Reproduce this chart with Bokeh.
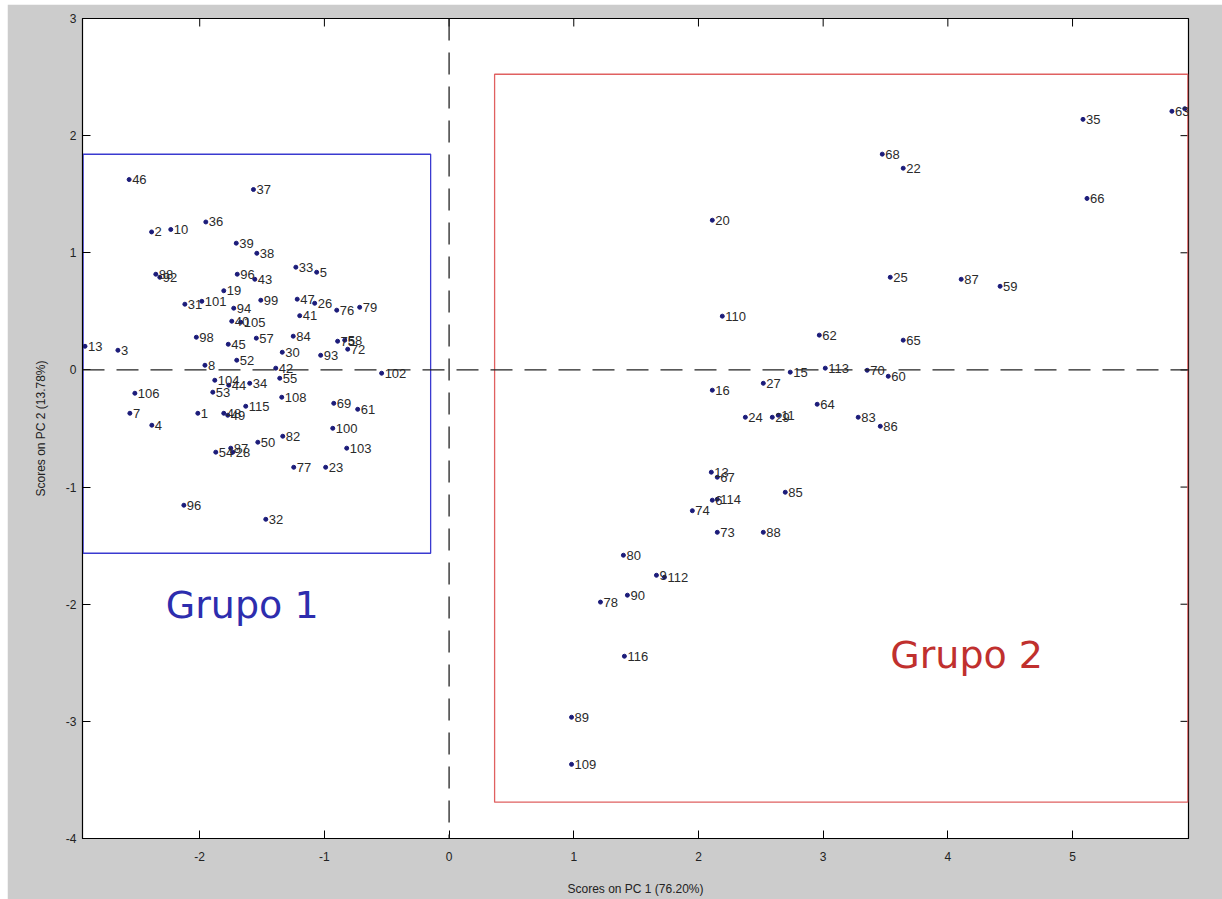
import math
from bokeh.plotting import figure
from bokeh.models import Range1d, Span, FixedTicker, ColumnDataSource
from bokeh.core.properties import value
from bokeh.embed import file_html
from bokeh.resources import INLINE

# ---- data (scores) ----
g1_labels = ["46", "37", "2", "10", "36", "39", "38", "88", "92", "96", "43", "33", "5",
             "31", "101", "19", "99", "47", "26", "76", "79", "41", "94", "40", "105",
             "84", "98", "45", "57", "30", "93", "75", "58", "72", "13", "3", "8", "52",
             "42", "102", "55", "34", "104", "44", "106", "53", "7", "4", "1", "48", "49",
             "115", "108", "69", "61", "100", "103", "82", "50", "87", "54", "28", "77",
             "23", "96", "32"]
g1_x = [-2.566, -1.569, -2.386, -2.232, -1.951, -1.707, -1.542, -2.352, -2.320, -1.699,
        -1.558, -1.229, -1.062, -2.119, -1.983, -1.807, -1.510, -1.218, -1.078, -0.901,
        -0.717, -1.198, -1.727, -1.743, -1.671, -1.250, -2.027, -1.771, -1.546, -1.338,
        -1.030, -0.894, -0.837, -0.813, -2.920, -2.656, -1.958, -1.703, -1.390, -0.541,
        -1.358, -1.599, -1.879, -1.767, -2.520, -1.895, -2.560, -2.384, -2.015, -1.807,
        -1.775, -1.631, -1.342, -0.925, -0.733, -0.933, -0.821, -1.334, -1.534, -1.751,
        -1.871, -1.735, -1.246, -0.990, -2.127, -1.470]
g1_y = [1.625, 1.540, 1.178, 1.199, 1.263, 1.082, 0.996, 0.817, 0.791, 0.817,
        0.774, 0.877, 0.834, 0.561, 0.586, 0.676, 0.595, 0.604, 0.569, 0.510,
        0.535, 0.463, 0.527, 0.416, 0.407, 0.288, 0.279, 0.219, 0.271, 0.151,
        0.125, 0.245, 0.254, 0.177, 0.202, 0.168, 0.040, 0.083, 0.015, -0.028,
        -0.071, -0.114, -0.088, -0.130, -0.199, -0.190, -0.370, -0.472, -0.370, -0.370,
        -0.387, -0.310, -0.233, -0.285, -0.336, -0.498, -0.668, -0.566, -0.617, -0.668,
        -0.702, -0.702, -0.831, -0.831, -1.155, -1.275]

g2_labels = ["20", "68", "22", "35", "63", "26", "66", "25", "87", "59", "110", "62", "65",
             "15", "113", "70", "60", "27", "16", "24", "29", "11", "64", "83", "86",
             "13", "67", "6", "114", "74", "85", "73", "88", "80", "9", "112", "78",
             "90", "116", "89", "109"]
g2_x = [2.111, 3.474, 3.642, 5.084, 5.797, 5.900, 5.116, 3.538, 4.107, 4.419, 2.191,
        2.969, 3.642, 2.736, 3.017, 3.353, 3.522, 2.520, 2.111, 2.376, 2.592, 2.640,
        2.952, 3.281, 3.458, 2.103, 2.151, 2.111, 2.151, 1.951, 2.696, 2.151, 2.520,
        1.398, 1.663, 1.727, 1.214, 1.430, 1.406, 0.982, 0.982]
g2_y = [1.278, 1.842, 1.722, 2.139, 2.208, 2.230, 1.464, 0.791, 0.774, 0.714, 0.459,
        0.297, 0.254, -0.019, 0.015, -0.003, -0.054, -0.114, -0.173, -0.404, -0.404,
        -0.387, -0.293, -0.404, -0.481, -0.873, -0.916, -1.112, -1.104, -1.202, -1.044,
        -1.386, -1.386, -1.582, -1.753, -1.770, -1.982, -1.923, -2.444, -2.965, -3.367]

x_ticks = [-2, -1, 0, 1, 2, 3, 4, 5]
y_ticks = [-4, -3, -2, -1, 0, 1, 2, 3]
x_title = "Scores on PC 1 (76.20%)"
y_title = "Scores on PC 2 (13.78%)"

X_MIN, X_MAX, Y_MIN, Y_MAX = -2.94, 5.93, -4, 3

# group boxes (left, right, top, bottom)
box1 = (-2.935, -0.148, 1.841, -1.565)
box2 = (0.365, 5.925, 2.524, -3.690)

p = figure(width=1215, height=895, output_backend="svg", toolbar_location=None,
           x_range=Range1d(X_MIN, X_MAX), y_range=Range1d(Y_MIN, Y_MAX),
           min_border_left=75, min_border_right=34, min_border_top=14, min_border_bottom=61,
           background_fill_color="white", border_fill_color="#cccccc",
           outline_line_color="black", outline_line_width=1.2)
p.margin = (4, 0, 0, 7)
p.grid.visible = False

for ax in (p.xaxis[0], p.yaxis[0]):
    ax.major_tick_in = 8
    ax.major_tick_out = 0
    ax.minor_tick_line_color = None
    ax.axis_line_color = "black"
    ax.major_tick_line_color = "black"
    ax.major_label_text_font = "Liberation Sans"
    ax.major_label_text_font_size = "12px"
    ax.major_label_text_color = "#222222"
    ax.axis_label_text_font = "Liberation Sans"
    ax.axis_label_text_font_size = "12px"
    ax.axis_label_text_font_style = "normal"
    ax.axis_label_text_color = "#222222"

p.xaxis.ticker = FixedTicker(ticks=x_ticks)
p.yaxis.ticker = FixedTicker(ticks=y_ticks)
p.xaxis.major_label_overrides = {t: str(t) for t in x_ticks}
p.yaxis.major_label_overrides = {t: str(t) for t in y_ticks}
p.xaxis.axis_label = x_title
p.yaxis.axis_label = y_title
p.xaxis.major_label_standoff = 13
p.xaxis.axis_label_standoff = 18
p.yaxis.major_label_standoff = 6
p.yaxis.axis_label_standoff = 15

# tick marks on top and right edges of the box (half of each dash clipped by the frame)
p.scatter(x=x_ticks, y=[Y_MAX] * len(x_ticks), marker="dash", angle=math.pi / 2,
          size=16, line_color="black", line_width=1)
p.scatter(x=[X_MAX] * len(y_ticks), y=y_ticks, marker="dash",
          size=16, line_color="black", line_width=1)

# dashed zero lines
p.add_layout(Span(location=0, dimension="width", line_color="#222222",
                  line_dash="22 12", line_width=1.3))
p.add_layout(Span(location=0, dimension="height", line_color="#222222",
                  line_dash="22 12", line_width=1.3))

# group rectangles
p.quad(left=[box1[0]], right=[box1[1]], top=[box1[2]], bottom=[box1[3]],
       fill_color=None, line_color="#3a3ad0", line_width=1.3)
p.quad(left=[box2[0]], right=[box2[1]], top=[box2[2]], bottom=[box2[3]],
       fill_color=None, line_color="#e06060", line_width=1.3)

src = ColumnDataSource(dict(x=g1_x + g2_x, y=g1_y + g2_y, lab=g1_labels + g2_labels))
p.scatter("x", "y", source=src, size=4, color="#1c1c7a")
p.text("x", "y", text="lab", source=src, x_offset=3, text_baseline="middle",
       text_font=value("Liberation Sans"), text_font_size="13px", text_color="#2a2a2a")

p.text(x=[-2.272], y=[-2.009], text=["Grupo 1"], text_baseline="middle",
       text_font=value("DejaVu Sans"), text_font_size="38px", text_color="#2d2dae")
p.text(x=[3.538], y=[-2.436], text=["Grupo 2"], text_baseline="middle",
       text_font=value("DejaVu Sans"), text_font_size="38px", text_color="#c0302e")

open("out.html", "w").write(file_html(p, INLINE))
